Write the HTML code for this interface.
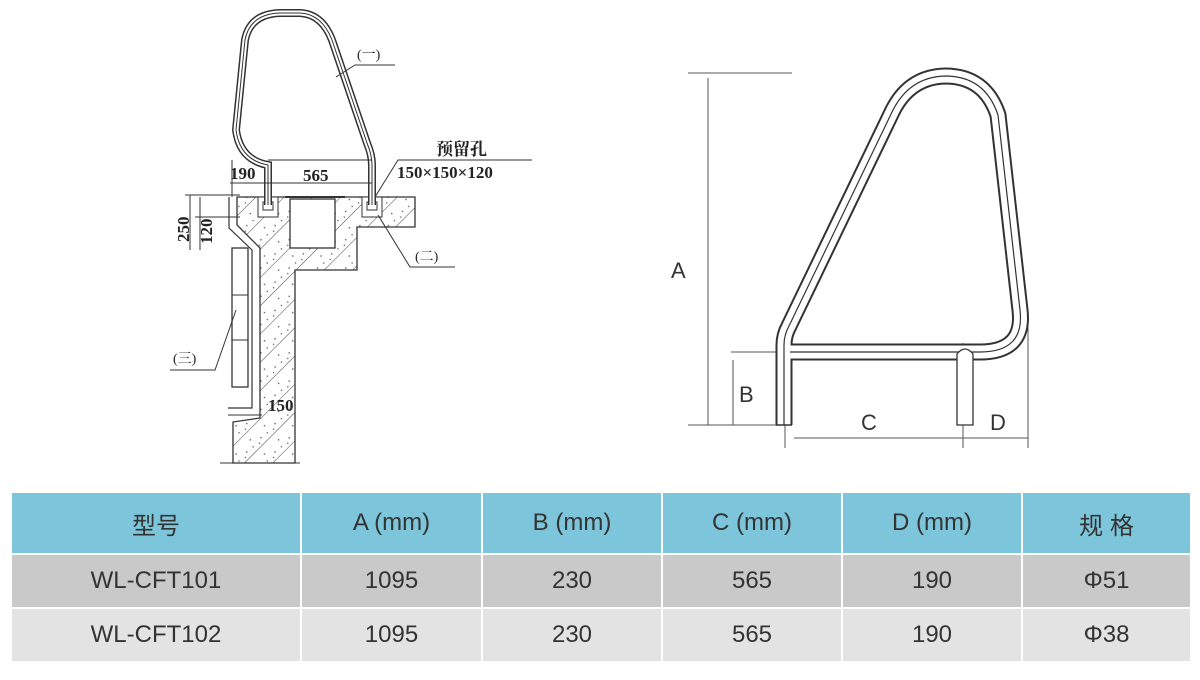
<!DOCTYPE html>
<html><head><meta charset="utf-8"><style>
body{margin:0;width:1200px;height:680px;background:#fff;overflow:hidden;position:relative;font-family:"Liberation Sans","Noto Sans CJK SC",sans-serif}
svg{position:absolute;left:0;top:0}
table{position:absolute;left:10px;top:491px;width:1180px;border-collapse:collapse;table-layout:fixed}
td{text-align:center;color:#333;font-size:24px;border:2px solid #fff;padding:0}
tr.h td{background:#7cc5da;height:60px}
tr.r1 td{background:#c9c9c9;height:52px}
tr.r2 td{background:#e3e3e3;height:52px}
</style></head><body>
<svg width="1200" height="480" viewBox="0 0 1200 480">
<defs>
<pattern id="hat" width="20" height="20" patternUnits="userSpaceOnUse" patternTransform="rotate(-45)">
<rect width="20" height="20" fill="#fff"/>
<line x1="0" y1="0" x2="20" y2="0" stroke="#444" stroke-width="1"/>
<circle cx="6" cy="8" r="0.8" fill="#555"/><circle cx="15" cy="14" r="0.8" fill="#555"/><circle cx="10" cy="17" r="0.7" fill="#555"/><circle cx="3" cy="15" r="0.7" fill="#555"/>
</pattern>
</defs>
<polygon points="237,197 415,197 415,227 357,227 357,270 295,270 295,463 233,463 233,422 260,418 260,248 237,225" fill="url(#hat)" stroke="#333" stroke-width="1.3"/>
<polyline points="229,197 229,228 252,250 252,408 228,408" fill="none" stroke="#333" stroke-width="1.2"/>
<line x1="228" y1="415" x2="262" y2="415" stroke="#333"/>
<line x1="220" y1="463" x2="300" y2="463" stroke="#333"/>
<rect x="290" y="199" width="45" height="49" fill="#fff" stroke="#333" stroke-width="1.3"/>
<line x1="285" y1="197" x2="345" y2="197" stroke="#333" stroke-width="2"/>
<rect x="258" y="197" width="20" height="20" fill="#fff" stroke="#333"/>
<rect x="362" y="197" width="20" height="20" fill="#fff" stroke="#333"/>
<rect x="263" y="202" width="10" height="8" fill="none" stroke="#333"/>
<rect x="367" y="202" width="10" height="8" fill="none" stroke="#333"/>
<rect x="232" y="248" width="16" height="139" fill="#fff" stroke="#333" stroke-width="1.3"/>
<line x1="232" y1="295" x2="248" y2="295" stroke="#333"/><line x1="232" y1="340" x2="248" y2="340" stroke="#333"/>
<path id="lr" d="M268,205 L268,165 Q240,160 236,130 L245,40 Q250,14 280,13 L300,13 Q322,14 332,40 L367,143 Q372,155 372,165 L372,205" fill="none" stroke="#333" stroke-width="8"/>
<path d="M268,205 L268,165 Q240,160 236,130 L245,40 Q250,14 280,13 L300,13 Q322,14 332,40 L367,143 Q372,155 372,165 L372,205" fill="none" stroke="#fff" stroke-width="5"/>
<path d="M268,205 L268,165 Q240,160 236,130 L245,40 Q250,14 280,13 L300,13 Q322,14 332,40 L367,143 Q372,155 372,165 L372,205" fill="none" stroke="#333" stroke-width="1"/>
<line x1="268" y1="160" x2="372" y2="160" stroke="#333"/>
<line x1="230" y1="183" x2="372" y2="183" stroke="#333"/>
<g font-family="Liberation Serif,serif" font-weight="bold" fill="#222" font-size="17">
<text x="230" y="179">190</text><text x="303" y="181">565</text>
<text x="397" y="178">150×150×120</text>
<text x="436" y="155" font-family="Liberation Serif,'Noto Serif CJK SC',serif">预留孔</text>
<text x="268" y="411">150</text>
<text transform="translate(189,242) rotate(-90)">250</text>
<text transform="translate(212,244) rotate(-90)">120</text>
</g>
<g font-family="Liberation Serif,'Noto Serif CJK SC',serif" font-size="14" fill="#222">
<text x="357" y="59">(一)</text><text x="415" y="261">(二)</text><text x="173" y="363">(三)</text>
</g>
<g stroke="#333" fill="none" stroke-width="1">
<polyline points="336,77 355,65 395,65"/>
<polyline points="375,197 398,160 532,160"/>
<polyline points="378,215 410,267 455,267"/>
<polyline points="170,370 215,370 236,310"/>
<line x1="190" y1="195" x2="190" y2="250"/><line x1="200" y1="197" x2="200" y2="250"/>
<line x1="185" y1="195" x2="240" y2="195"/><line x1="195" y1="217" x2="240" y2="217"/>
<line x1="232" y1="160" x2="232" y2="197"/>
</g>
<g stroke="#555" stroke-width="1" fill="none">
<line x1="688" y1="73" x2="792" y2="73"/><line x1="708" y1="78" x2="708" y2="425"/>
<line x1="688" y1="425" x2="792" y2="425"/>
<line x1="731" y1="352" x2="790" y2="352"/><line x1="733" y1="360" x2="733" y2="425"/>
<line x1="794" y1="438" x2="1028" y2="438"/>
<line x1="785" y1="425" x2="785" y2="448"/><line x1="963" y1="343" x2="963" y2="448"/><line x1="1028" y1="310" x2="1028" y2="448"/>
</g>
<path d="M784,425 L784,345 Q784,335 789,326 L893,110 Q910,77 945,76 Q985,76 998,115 L1020,310 Q1025,352 980,352 L790,352" fill="none" stroke="#333" stroke-width="17"/>
<path d="M784,425 L784,345 Q784,335 789,326 L893,110 Q910,77 945,76 Q985,76 998,115 L1020,310 Q1025,352 980,352 L790,352" fill="none" stroke="#fff" stroke-width="13"/>
<path d="M784,425 L784,345 Q784,335 789,326 L893,110 Q910,77 945,76 Q985,76 998,115 L1020,310 Q1025,352 980,352 L790,352" fill="none" stroke="#333" stroke-width="1.2"/>
<path d="M957,425 L957,354 Q965,344 973,354 L973,425 Z" fill="#fff" stroke="#333" stroke-width="1.3"/>
<line x1="776" y1="425" x2="792" y2="425" stroke="#333" stroke-width="1.5"/>
<g font-family="Liberation Sans,sans-serif" font-size="22" fill="#333">
<text x="671" y="278">A</text><text x="739" y="402">B</text><text x="861" y="430">C</text><text x="990" y="430">D</text>
</g>
</svg>
<table>
<colgroup><col style="width:290px"><col style="width:181px"><col style="width:180px"><col style="width:180px"><col style="width:180px"><col style="width:169px"></colgroup>
<tr class="h"><td>型号</td><td>A (mm)</td><td>B (mm)</td><td>C (mm)</td><td>D (mm)</td><td>规 格</td></tr>
<tr class="r1"><td>WL-CFT101</td><td>1095</td><td>230</td><td>565</td><td>190</td><td>Φ51</td></tr>
<tr class="r2"><td>WL-CFT102</td><td>1095</td><td>230</td><td>565</td><td>190</td><td>Φ38</td></tr>
</table>
</body></html>
